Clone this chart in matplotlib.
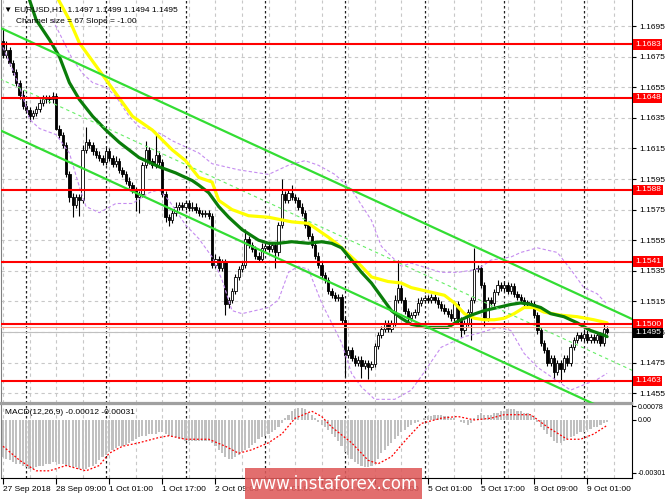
import numpy as np
import matplotlib
matplotlib.use('Agg')
import matplotlib.pyplot as plt
import matplotlib.transforms as mtransforms
from matplotlib.patches import Rectangle
from matplotlib import font_manager

plt.rcParams['font.family'] = ['Liberation Sans', 'DejaVu Sans']

# terminal font: narrow if available
_names = {f.name for f in font_manager.fontManager.ttflist}
if 'Liberation Sans Narrow' in _names:
    UI_FONT, FS = ['Liberation Sans Narrow', 'DejaVu Sans'], 7
else:
    UI_FONT, FS = ['Liberation Sans', 'DejaVu Sans'], 6.0

# EURUSD H1 - bars from 27 Sep 17:00 to 9 Oct 07:00 (open = previous close)
first_open = 1.1685
closes = [
    1.1676, 1.1679, 1.1671, 1.1665, 1.1658, 1.1650, 1.1643, 1.1640, 1.1636, 1.1638,
    1.1641, 1.1645, 1.1647, 1.1648, 1.1647, 1.1649, 1.1628, 1.1624, 1.1617, 1.1598,
    1.1583, 1.1578, 1.1583, 1.1581, 1.1614, 1.1619, 1.1617, 1.1613, 1.1611, 1.1609,
    1.1606, 1.1613, 1.1609, 1.1605, 1.1607, 1.1601, 1.1598, 1.1594, 1.1591, 1.1588,
    1.1583, 1.1585, 1.1604, 1.1614, 1.1607, 1.1604, 1.1611, 1.1606, 1.1585, 1.1570,
    1.1568, 1.1573, 1.1577, 1.1578, 1.1577, 1.1579, 1.1576, 1.1577, 1.1575, 1.1573,
    1.1572, 1.1573, 1.1571, 1.1539, 1.1543, 1.1537, 1.1541, 1.1513, 1.1516, 1.1522,
    1.1531, 1.1536, 1.1539, 1.1556, 1.1552, 1.1549, 1.1545, 1.1543, 1.1550, 1.1551,
    1.1549, 1.1552, 1.1547, 1.1565, 1.1585, 1.1581, 1.1586, 1.1583, 1.1581, 1.1577,
    1.1573, 1.1565, 1.1558, 1.1552, 1.1545, 1.1539, 1.1532, 1.1529, 1.1522, 1.1519,
    1.1517, 1.1518, 1.1503, 1.1480, 1.1483, 1.1478, 1.1475, 1.1477, 1.1473, 1.1475,
    1.1472, 1.1474, 1.1486, 1.1493, 1.1497, 1.1501, 1.1497, 1.1501, 1.1516, 1.1524,
    1.1516, 1.1509, 1.1504, 1.1506, 1.1508, 1.1514, 1.1516, 1.1517, 1.1516, 1.1518,
    1.1516, 1.1513, 1.1511, 1.1509, 1.1507, 1.1504, 1.1513, 1.1503, 1.1496, 1.1501,
    1.1508, 1.1516, 1.1536, 1.1537, 1.1526, 1.1504, 1.1516, 1.1514, 1.1521, 1.1526,
    1.1524, 1.1526, 1.1522, 1.1525, 1.1520, 1.1518, 1.1516, 1.1514, 1.1514, 1.1513,
    1.1506, 1.1496, 1.1488, 1.1483, 1.1475, 1.1478, 1.1469, 1.1475, 1.1471, 1.1478,
    1.1475, 1.1485, 1.1490, 1.1493, 1.1491, 1.1494, 1.1490, 1.1492, 1.1490, 1.1493,
    1.1488, 1.1497, 1.1495,
]
# wick lengths beyond the body, in pips
wick_up = [
    9, 6, 2, 2, 2, 2, 3, 2, 2, 2,  2, 2, 3, 2, 2, 3, 2, 2, 2, 2,
    2, 3, 2, 2, 3, 10, 2, 2, 2, 2,  2, 3, 2, 2, 3, 2, 2, 2, 2, 2,
    2, 2, 2, 6, 2, 2, 14, 2, 2, 2,  2, 2, 3, 2, 2, 2, 2, 3, 2, 2,
    2, 2, 2, 2, 3, 2, 2, 2, 2, 2,  2, 2, 2, 6, 2, 2, 2, 2, 3, 2,
    2, 2, 2, 2, 10, 2, 2, 5, 2, 2,  2, 2, 2, 2, 2, 2, 2, 2, 2, 2,
    2, 2, 2, 2, 3, 2, 2, 2, 2, 2,  2, 2, 2, 2, 2, 2, 2, 2, 3, 18,
    2, 2, 2, 2, 2, 3, 2, 2, 2, 2,  2, 2, 2, 2, 2, 3, 2, 2, 2, 2,
    2, 2, 14, 2, 2, 2, 2, 2, 2, 3,  2, 2, 2, 2, 2, 2, 2, 2, 2, 2,
    2, 2, 2, 2, 2, 2, 2, 2, 2, 2,  2, 2, 2, 2, 2, 3, 2, 2, 2, 2,
    2, 4, 2,
]
wick_dn = [
    2, 2, 2, 2, 2, 3, 2, 2, 3, 2,  2, 2, 2, 2, 2, 2, 1, 2, 2, 2,
    3, 8, 2, 10, 2, 2, 2, 2, 2, 2,  2, 2, 2, 2, 2, 2, 2, 2, 2, 2,
    9, 10, 2, 2, 2, 2, 2, 2, 2, 3,  4, 2, 2, 2, 2, 2, 2, 2, 2, 2,
    2, 2, 2, 2, 2, 2, 2, 7, 2, 2,  2, 2, 2, 2, 2, 2, 2, 2, 2, 2,
    2, 2, 10, 2, 2, 2, 2, 2, 2, 2,  2, 2, 2, 2, 2, 2, 2, 2, 2, 2,
    2, 2, 2, 14, 2, 2, 2, 2, 8, 2,  8, 2, 2, 2, 2, 2, 2, 2, 2, 2,
    2, 2, 3, 2, 2, 2, 2, 2, 2, 2,  2, 2, 2, 2, 2, 2, 2, 3, 4, 2,
    2, 18, 2, 2, 2, 5, 2, 2, 2, 2,  2, 2, 2, 2, 2, 2, 2, 2, 2, 2,
    2, 2, 2, 2, 2, 2, 5, 2, 9, 2,  2, 2, 2, 2, 2, 2, 2, 2, 2, 2,
    2, 2, 1,
]

# moving averages (bar, price)
fast_ma_x = [8, 10, 14, 17, 20, 23, 27, 31, 35, 41, 47, 52, 57, 59, 62, 65, 68, 72, 77, 80,
             83, 87, 92, 96, 99, 102, 105, 108, 111, 114, 117, 120, 123, 128, 131, 134, 137,
             141, 145, 149, 153, 156, 159, 162, 165, 169, 173, 177, 181, 182]
fast_ma_y = [1.1712, 1.1699, 1.1686, 1.1675, 1.1658, 1.1647, 1.1636, 1.1627, 1.1619, 1.1609,
             1.1603, 1.1599, 1.1594, 1.1591, 1.1586, 1.1577, 1.1570, 1.1562, 1.1555, 1.1553,
             1.1553, 1.1554, 1.1553, 1.1554, 1.1553, 1.1550, 1.1542, 1.1534, 1.1527, 1.1518,
             1.1509, 1.1504, 1.1500, 1.1498, 1.1498, 1.1498, 1.1502, 1.1506, 1.1509, 1.1511,
             1.1513, 1.1514, 1.1513, 1.1511, 1.1507, 1.1505, 1.1501, 1.1496, 1.1493, 1.1492]
slow_ma_x = [16, 20, 23, 29, 34, 39, 45, 51, 55, 59, 63, 65, 69, 74, 80, 87, 92, 94, 98, 101,
             105, 108, 111, 116, 120, 123, 129, 133, 136, 139, 142, 145, 148, 151, 154, 157,
             160, 163, 168, 173, 178, 182]
slow_ma_y = [1.1715, 1.1699, 1.1684, 1.1666, 1.1651, 1.1636, 1.1627, 1.1614, 1.1607, 1.1596,
             1.1593, 1.1581, 1.1575, 1.1571, 1.1570, 1.1567, 1.1566, 1.1563, 1.1557, 1.1552,
             1.1544, 1.1538, 1.1531, 1.1528, 1.1527, 1.1524, 1.1521, 1.1519, 1.1514, 1.1507,
             1.1504, 1.1503, 1.1503, 1.1504, 1.1507, 1.1511, 1.1511, 1.1508, 1.1506, 1.1505,
             1.1503, 1.1501]

# bollinger bands (bar, price)
bb_up_x = [15, 18, 21, 24, 27, 31, 34, 38, 41, 45, 48, 51, 55, 59, 63, 71, 80, 86, 91, 95,
           100, 105, 108, 111, 114, 120, 123, 132, 137, 143, 147, 153, 156, 161, 167, 171,
           175, 179, 182]
bb_up_y = [1.1699, 1.1686, 1.1673, 1.1664, 1.1658, 1.1655, 1.1649, 1.1636, 1.1629, 1.1627,
           1.1624, 1.1620, 1.1616, 1.1612, 1.1605, 1.1601, 1.1598, 1.1604, 1.1607, 1.1604,
           1.1598, 1.1588, 1.1578, 1.1568, 1.1551, 1.1538, 1.1540, 1.1534, 1.1534, 1.1536,
           1.1542, 1.1544, 1.1547, 1.1550, 1.1547, 1.1536, 1.1524, 1.1520, 1.1513]
bb_dn_x = [0, 3, 5, 7, 8, 11, 16, 20, 23, 25, 29, 34, 39, 44, 47, 50, 55, 59, 63, 66, 69, 72,
           80, 83, 86, 89, 92, 96, 102, 105, 108, 112, 118, 123, 126, 132, 139, 143, 149, 153,
           157, 161, 165, 171, 179, 182]
bb_dn_y = [1.1681, 1.1666, 1.1655, 1.1642, 1.1634, 1.1628, 1.1624, 1.1612, 1.1590, 1.1577,
           1.1573, 1.1579, 1.1579, 1.1586, 1.1588, 1.1581, 1.1565, 1.1556, 1.1544, 1.1529,
           1.1509, 1.1507, 1.1511, 1.1516, 1.1534, 1.1538, 1.1536, 1.1514, 1.1488, 1.1468,
           1.1459, 1.1451, 1.1451, 1.1457, 1.1466, 1.1485, 1.1492, 1.1494, 1.1498, 1.1496,
           1.1481, 1.1472, 1.1466, 1.1457, 1.1464, 1.1468]

# equidistant channel, size 67, slope -1.00
chan_x = [-1, 190]
chan_top = [1.1694, 1.1503]
chan_bot = [1.1627, 1.1436]

levels = [1.1683, 1.1648, 1.1588, 1.1541, 1.1500, 1.1463]
last_price = 1.1495
price_ticks = [1.1695, 1.1675, 1.1655, 1.1635, 1.1615, 1.1595, 1.1575, 1.1555,
               1.1535, 1.1515, 1.1495, 1.1475, 1.1455]

label_bars = [0, 16, 32, 48, 64, 80, 96, 112, 128, 144, 160, 176]
time_labels = ['27 Sep 2018', '28 Sep 09:00', '1 Oct 01:00', '1 Oct 17:00', '2 Oct 09:00',
               '3 Oct 01:00', '3 Oct 17:00', '4 Oct 09:00', '5 Oct 01:00', '5 Oct 17:00',
               '8 Oct 09:00', '9 Oct 01:00']
day_bars = [7, 31, 55, 79, 103, 127, 151, 175]

# MACD(12,26,9)
macd_hist = [
    -0.0021, -0.0022, -0.0023, -0.0024, -0.0025, -0.0025, -0.0026, -0.0027, -0.0028, -0.0028,
    -0.0027, -0.0026, -0.0026, -0.0025, -0.0025, -0.0024, -0.0024, -0.0025, -0.0025, -0.0026,
    -0.0026, -0.0027, -0.0027, -0.0028, -0.0028, -0.0028, -0.0027, -0.0026, -0.0025, -0.0023,
    -0.0021, -0.0020, -0.0018, -0.0017, -0.0016, -0.0015, -0.0015, -0.0014, -0.0013, -0.0012,
    -0.0011, -0.0010, -0.0009, -0.0009, -0.0008, -0.0008, -0.0008, -0.0007, -0.0007, -0.0008,
    -0.0009, -0.0010, -0.0010, -0.0011, -0.0011, -0.0012, -0.0012, -0.0012, -0.0012, -0.0012,
    -0.0012, -0.0012, -0.0012, -0.0013, -0.0015, -0.0017, -0.0019, -0.0021, -0.0022, -0.0022,
    -0.0021, -0.0020, -0.0018, -0.0017, -0.0016, -0.0014, -0.0013, -0.0011, -0.0010, -0.0009,
    -0.0008, -0.0007, -0.0006, -0.0004, -0.0002, 0.0001, 0.0003, 0.0005, 0.0006, 0.0007,
    0.0007, 0.0006, 0.0004, 0.0003, 0.0001, -0.0001, -0.0003, -0.0004, -0.0006, -0.0008,
    -0.0010, -0.0012, -0.0015, -0.0018, -0.0020, -0.0022, -0.0024, -0.0025, -0.0026, -0.0027,
    -0.0027, -0.0026, -0.0025, -0.0022, -0.0019, -0.0017, -0.0015, -0.0013, -0.0011, -0.0009,
    -0.0007, -0.0006, -0.0004, -0.0003, -0.0002, -0.0001, 0.0000, 0.0001, 0.0002, 0.0002,
    0.0003, 0.0003, 0.0003, 0.0002, 0.0002, 0.0001, 0.0001, 0.0000, -0.0001, -0.0002,
    -0.0003, -0.0002, 0.0001, 0.0003, 0.0004, 0.0003, 0.0003, 0.0003, 0.0004, 0.0004,
    0.0005, 0.0005, 0.0006, 0.0006, 0.0006, 0.0005, 0.0005, 0.0004, 0.0004, 0.0003,
    0.0002, -0.0001, -0.0004, -0.0006, -0.0008, -0.0010, -0.0012, -0.0013, -0.0013, -0.0012,
    -0.0011, -0.0010, -0.0009, -0.0008, -0.0007, -0.0007, -0.0006, -0.0005, -0.0004, -0.0004,
    -0.0003, -0.0002, -0.00012,
]
signal_x = [0, 5, 10, 14, 19, 25, 29, 32, 36, 41, 47, 50, 55, 62, 67, 71, 75, 80, 84, 88,
            93, 96, 99, 105, 110, 113, 117, 122, 126, 132, 137, 142, 147, 151, 159, 164,
            170, 174, 178, 182]
signal_y = [-0.0015, -0.0023, -0.0029, -0.0029, -0.0026, -0.0029, -0.0026, -0.0019, -0.0015,
            -0.0013, -0.0010, -0.0009, -0.0011, -0.0011, -0.0015, -0.0019, -0.0017, -0.0013,
            -0.0008, 0.0001, 0.0005, 0.0002, -0.0004, -0.0013, -0.0023, -0.0025, -0.0021,
            -0.0010, -0.0002, 0.0001, 0.0002, 0.0000, 0.0001, 0.0003, 0.0003, -0.0004,
            -0.0011, -0.0011, -0.0008, -0.00031]

# ---- figure
W, H = 665, 499
fig = plt.figure(figsize=(W / 100, H / 100), dpi=100)
fig.patch.set_facecolor('white')

x0, x1 = 1, 632
ax = fig.add_axes([x0 / W, 1 - 403 / H, (x1 - x0) / W, 403 / H])
axm = fig.add_axes([x0 / W, 1 - 478 / H, (x1 - x0) / W, 74 / H], sharex=ax)

ax.set_xlim(-0.6, 189.5)
ax.set_ylim(1.14486, 1.17120)
axm.set_ylim(-0.00331, 0.00091)

grid_kw = dict(color='#c8c8c8', lw=0.8, ls=(0, (3, 3)), zorder=0)
sep_kw = dict(color='#202020', lw=0.9, ls=(0, (2, 2)), zorder=0)
for a in (ax, axm):
    for b in range(0, 190, 8):
        a.axvline(b, **grid_kw)
    for b in day_bars:
        a.axvline(b, **sep_kw)
for p in price_ticks:
    ax.axhline(p, **grid_kw)

# candles
c = np.array(closes)
o = np.concatenate([[first_open], c[:-1]])
hi = np.maximum(o, c) + np.array(wick_up) * 0.0001
lo = np.minimum(o, c) - np.array(wick_dn) * 0.0001
idx = np.arange(len(c))
ax.vlines(idx, lo, hi, color='black', lw=0.8, zorder=2)
bull = c >= o
body_h = np.maximum(np.abs(c - o), 0.00004)
ax.bar(idx[bull], body_h[bull], bottom=np.minimum(o, c)[bull], width=0.7,
       facecolor='white', edgecolor='black', lw=0.6, zorder=2.5)
ax.bar(idx[~bull], body_h[~bull], bottom=np.minimum(o, c)[~bull], width=0.7,
       facecolor='black', edgecolor='black', lw=0.6, zorder=2.5)

# indicators
ax.plot(bb_up_x, bb_up_y, color='#c58cf0', lw=0.8, ls=(0, (3, 2)), zorder=3)
ax.plot(bb_dn_x, bb_dn_y, color='#c58cf0', lw=0.8, ls=(0, (3, 2)), zorder=3)
ax.plot(slow_ma_x, slow_ma_y, color='#ffff00', lw=2.3, zorder=3.2, solid_capstyle='round')
ax.plot(fast_ma_x, fast_ma_y, color='#0a7d0a', lw=2.3, zorder=3.3, solid_capstyle='round')

ax.plot(chan_x, chan_top, color='#33dd33', lw=1.6, zorder=4)
ax.plot(chan_x, chan_bot, color='#33dd33', lw=1.6, zorder=4)
ax.plot(chan_x, [(chan_top[0] + chan_bot[0]) / 2, (chan_top[1] + chan_bot[1]) / 2],
        color='#66ee66', lw=0.8, ls=(0, (3, 3)), zorder=4)

for lv in levels:
    ax.axhline(lv, color='#ff0000', lw=1.5, zorder=4)
ax.axhline(1.1498, color='#ff9a80', lw=0.8, zorder=3.9)
ax.axhline(last_price, color='#c0c0c0', lw=0.8, zorder=1.5)

# price axis
ax.yaxis.tick_right()
ax.set_yticks(price_ticks)
ax.set_yticklabels([f'{p:.4f}' for p in price_ticks], family=UI_FONT)
ax.tick_params(axis='y', direction='out', length=3, width=0.8, labelsize=FS, pad=2)
ax.tick_params(axis='x', bottom=False, labelbottom=False)

tr = mtransforms.blended_transform_factory(ax.transAxes, ax.transData)
for lv in levels:
    ax.text(1.0 + 3 / (x1 - x0), lv, f'{lv:.4f}', transform=tr, color='white', fontsize=FS,
            va='center', ha='left', zorder=10, clip_on=False, family=UI_FONT,
            bbox=dict(boxstyle='square,pad=0.2', fc='#ff0000', ec='none'))
ax.text(1.0 + 3 / (x1 - x0), last_price - 0.00005, f'{last_price:.4f}', transform=tr,
        color='white', fontsize=FS, va='center', ha='left', zorder=10, clip_on=False,
        family=UI_FONT, bbox=dict(boxstyle='square,pad=0.2', fc='black', ec='none'))

ax.spines['top'].set_visible(False)
ax.spines['right'].set_color('black')
ax.spines['left'].set_color('#808080')
ax.spines['bottom'].set_color('#a0a0a0')
ax.spines['bottom'].set_linewidth(1.6)

ax.text(0.004, 0.985, '\u25bc EURUSD,H1  1.1497 1.1499 1.1494 1.1495', transform=ax.transAxes,
        fontsize=FS, va='top', ha='left', zorder=10, family=UI_FONT)
ax.text(0.023, 0.955, 'Channel size = 67 Slope = -1.00', transform=ax.transAxes,
        fontsize=FS, va='top', ha='left', zorder=10, family=UI_FONT)

# MACD panel
axm.bar(idx, macd_hist, width=0.65, color='#c0c0c0', zorder=2)
axm.plot(signal_x, signal_y, color='#ff0000', lw=0.9, ls=(0, (1.5, 1.5)), zorder=3)
axm.yaxis.tick_right()
axm.set_yticks([0.00078, 0.0, -0.00301])
axm.set_yticklabels(['0.00078', '0.00', '-0.00301'], family=UI_FONT)
axm.tick_params(axis='y', direction='out', length=3, width=0.8, labelsize=FS - 0.9, pad=1)
axm.set_xticks(label_bars)
axm.set_xticklabels(time_labels, ha='left', family=UI_FONT)
axm.tick_params(axis='x', direction='out', length=4, width=0.8, labelsize=FS, pad=2)
axm.spines['top'].set_color('#a0a0a0')
axm.spines['top'].set_linewidth(1.6)
axm.spines['left'].set_color('#808080')
axm.text(0.007, 0.93, 'MACD(12,26,9) -0.00012 -0.00031', transform=axm.transAxes,
         fontsize=FS, va='top', ha='left', zorder=10, family=UI_FONT)

# watermark
fig.patches.append(Rectangle((245 / W, 0), 177 / W, 31 / H, transform=fig.transFigure,
                             facecolor='#de5a5a', alpha=0.88, edgecolor='none', zorder=20))
fig.text(333 / W, 1 - 484 / H, 'www.instaforex.com', color='white', fontsize=12,
         ha='center', va='center', zorder=21, family=['DejaVu Sans'])

fig.savefig('out.png', dpi=100, facecolor='white')
